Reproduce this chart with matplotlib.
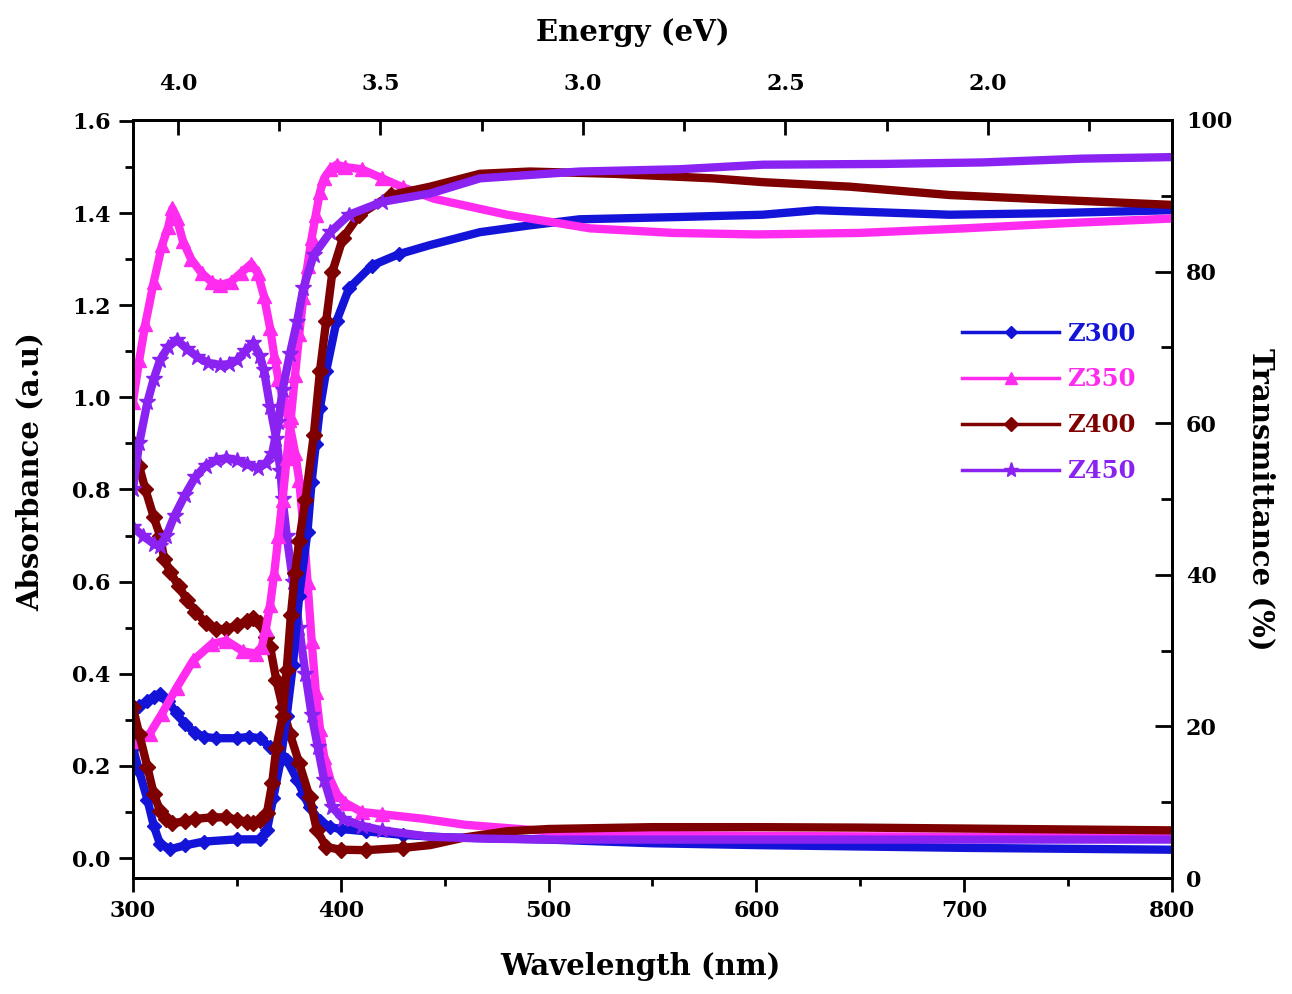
import matplotlib
matplotlib.use('Agg')
import matplotlib.pyplot as plt
from matplotlib.lines import Line2D
from matplotlib.ticker import MultipleLocator, FormatStrFormatter

plt.rcParams['font.family'] = 'DejaVu Serif'
plt.rcParams['font.weight'] = 'bold'

labels = ['Z300', 'Z350', 'Z400', 'Z450']
colors = ['#1414d8', '#ff2cf0', '#7e0000', '#8a22f2']
markers = ['D', '^', 'D', '*']
msizes = [7, 10, 8, 12]

# absorbance (left axis)
wl_abs_z300 = [300, 303, 307, 310, 313, 317, 321, 325, 330, 334, 340, 350, 356, 361, 366, 369, 372,
               374, 379, 382, 385, 390, 395, 400, 412, 430, 450, 500, 550, 600, 650, 700, 750, 800]
abs_z300 = [0.32, 0.33, 0.34, 0.35, 0.357, 0.34, 0.314, 0.29, 0.272, 0.263, 0.26, 0.26, 0.263, 0.26,
            0.241, 0.234, 0.22, 0.213, 0.17, 0.14, 0.11, 0.08, 0.067, 0.063, 0.058, 0.05, 0.045, 0.04,
            0.032, 0.028, 0.025, 0.022, 0.02, 0.018]

wl_abs_z350 = [300, 303, 306, 310, 314, 317, 319, 321, 324, 328, 333, 338, 342, 347, 352, 357, 360,
               363, 366, 368, 370, 372, 375, 378, 380, 382, 384, 386, 388, 390, 392, 395, 398, 402,
               410, 420, 440, 460, 480, 500, 550, 600, 700, 800]
abs_z350 = [0.99, 1.08, 1.16, 1.25, 1.33, 1.37, 1.41, 1.39, 1.34, 1.30, 1.27, 1.25, 1.244, 1.25, 1.27,
            1.29, 1.27, 1.22, 1.15, 1.09, 1.04, 1.00, 0.95, 0.88, 0.82, 0.72, 0.60, 0.47, 0.36, 0.28,
            0.22, 0.17, 0.14, 0.12, 0.10, 0.095, 0.085, 0.072, 0.065, 0.058, 0.05, 0.048, 0.046, 0.045]

wl_abs_z400 = [300, 303, 306, 310, 313, 315, 318, 322, 326, 330, 335, 340, 345, 350, 355, 358, 361,
               364, 366, 369, 372, 375.5, 380, 385, 388.5, 393, 400, 412, 430, 443, 460, 480, 500,
               550, 600, 650, 700, 750, 800]
abs_z400 = [0.90, 0.85, 0.80, 0.74, 0.70, 0.65, 0.62, 0.59, 0.56, 0.535, 0.51, 0.497, 0.497, 0.505,
            0.515, 0.522, 0.51, 0.48, 0.458, 0.386, 0.328, 0.27, 0.206, 0.133, 0.06, 0.024, 0.018,
            0.017, 0.022, 0.028, 0.045, 0.058, 0.063, 0.067, 0.067, 0.066, 0.064, 0.062, 0.06]

wl_abs_z450 = [300, 303, 307, 310, 313, 317, 321, 326, 331, 336, 342, 346, 350, 354, 358, 361, 363,
               366, 369, 371, 372, 374, 377, 380, 383, 386, 389, 392, 396, 401, 410, 420, 443, 470,
               500, 600, 700, 800]
abs_z450 = [0.80, 0.90, 0.99, 1.04, 1.08, 1.11, 1.125, 1.105, 1.088, 1.075, 1.07, 1.072, 1.08, 1.10,
            1.118, 1.09, 1.06, 0.98, 0.91, 0.84, 0.78, 0.70, 0.60, 0.50, 0.40, 0.31, 0.24, 0.17, 0.11,
            0.085, 0.07, 0.06, 0.046, 0.042, 0.04, 0.04, 0.04, 0.04]

# transmittance (right axis, %)
wl_tr_z300 = [300, 303, 307, 310, 313, 318, 325, 334, 350, 361, 364.5, 367.5, 371, 374, 377, 380, 384,
              386, 388, 390, 393, 398, 404, 415, 428, 443, 467, 491, 515, 563, 603, 629, 693, 741, 800]
tr_z300 = [17.2, 14.1, 10.3, 6.9, 4.5, 3.8, 4.3, 4.8, 5.1, 5.1, 6.3, 10.5, 15.4, 21.4, 28.1, 37.2, 45.7,
           52.3, 57.2, 62.0, 66.9, 73.5, 77.8, 80.8, 82.3, 83.5, 85.2, 86.1, 86.9, 87.2, 87.5, 88.1,
           87.5, 87.7, 88.1]

wl_tr_z350 = [300, 308, 314, 321, 329, 338, 345, 353, 359, 362, 364, 366, 368, 370, 372, 374, 376, 378,
              380, 382, 384, 386, 388, 390, 392, 395, 398, 402, 410, 420, 430, 445, 460, 480, 500, 520,
              560, 600, 650, 700, 750, 800]
tr_z350 = [18.1, 19.0, 21.7, 25.1, 28.7, 30.9, 31.3, 29.9, 29.6, 30.5, 32.9, 36.0, 40.2, 45.1, 49.9,
           55.4, 60.8, 66.3, 71.7, 76.6, 80.8, 84.4, 87.5, 90.5, 92.3, 93.5, 94.1, 93.8, 93.5, 92.3,
           91.1, 89.6, 88.7, 87.5, 86.6, 85.7, 85.1, 84.9, 85.1, 85.7, 86.4, 87.0]

wl_tr_z400 = [300, 303, 307, 310, 313, 316, 319, 325, 330, 338, 345, 350, 355, 358, 361, 364.5, 367,
              369, 372, 374, 376, 378, 380, 383, 387, 390, 393, 396, 401, 409, 424, 443, 467, 491,
              531, 579, 603, 645, 693, 741, 800]
tr_z400 = [22.5, 19.0, 14.6, 11.1, 8.9, 7.8, 7.2, 7.5, 7.8, 8.0, 8.0, 7.7, 7.4, 7.2, 7.7, 8.6, 12.5,
           17.2, 21.4, 27.5, 34.7, 40.2, 44.5, 49.9, 58.4, 66.9, 73.5, 80.0, 84.4, 87.5, 90.1, 91.2,
           92.9, 93.2, 92.9, 92.3, 91.8, 91.2, 90.1, 89.5, 88.8]

wl_tr_z450 = [300, 305, 310, 313, 316, 320, 325, 330, 335, 340, 345, 350, 355, 360, 364, 367, 370, 372,
              375.5, 379, 382, 387, 395, 404, 420, 443, 467, 515, 563, 603, 661, 709, 757, 800]
tr_z450 = [46.3, 45.1, 44.1, 43.8, 45.1, 47.8, 50.5, 52.9, 54.4, 55.1, 55.4, 55.1, 54.6, 54.1, 54.7,
           56.0, 60.2, 64.4, 69.1, 73.4, 77.8, 82.2, 85.2, 87.5, 89.2, 90.3, 92.3, 93.2, 93.5, 94.1,
           94.2, 94.4, 94.9, 95.1]

abs_wl = [wl_abs_z300, wl_abs_z350, wl_abs_z400, wl_abs_z450]
abs_vals = [abs_z300, abs_z350, abs_z400, abs_z450]
tr_wl = [wl_tr_z300, wl_tr_z350, wl_tr_z400, wl_tr_z450]
tr_vals = [tr_z300, tr_z350, tr_z400, tr_z450]

energy_ticks = [4.0, 3.5, 3.0, 2.5, 2.0]
energy_minor = [3.75, 3.25, 2.75, 2.25, 1.75]


def wl_to_ev(wl):
    # the top scale of the original is linear in wavelength
    return 4.0 - 0.005131 * (wl - 321.6)


def ev_to_wl(ev):
    return 321.6 + (4.0 - ev) / 0.005131


fig = plt.figure(figsize=(12.92, 9.94), dpi=100)
ax = fig.add_axes([0.1029, 0.1167, 0.8042, 0.7626])
ax2 = ax.twinx()

for i in range(4):
    # markers only where the points are dense, the flat part reads as a thick band
    mk_a = [w <= 430 for w in abs_wl[i]]
    mk_t = [w <= 430 for w in tr_wl[i]]
    ax.plot(abs_wl[i], abs_vals[i], color=colors[i], marker=markers[i], markersize=msizes[i],
            markevery=mk_a, linewidth=6, solid_joinstyle='round', solid_capstyle='round')
    ax2.plot(tr_wl[i], tr_vals[i], color=colors[i], marker=markers[i], markersize=msizes[i],
             markevery=mk_t, linewidth=6, solid_joinstyle='round', solid_capstyle='round')

ax.set_xlim(300, 800)
ax.set_ylim(-0.0434, 1.602)
ax2.set_ylim(0, 100)

ax.xaxis.set_major_locator(MultipleLocator(100))
ax.xaxis.set_minor_locator(MultipleLocator(50))
ax.yaxis.set_major_locator(MultipleLocator(0.2))
ax.yaxis.set_minor_locator(MultipleLocator(0.1))
ax2.yaxis.set_major_locator(MultipleLocator(20))
ax2.yaxis.set_minor_locator(MultipleLocator(10))
ax.yaxis.set_major_formatter(FormatStrFormatter('%.1f'))

ax.tick_params(axis='both', which='major', direction='out', length=10, width=2, labelsize=16, pad=6)
ax.tick_params(axis='both', which='minor', direction='out', length=6, width=2)
ax.tick_params(axis='x', top=False)
ax2.tick_params(axis='y', which='major', direction='in', length=12, width=2, labelsize=16, pad=10)
ax2.tick_params(axis='y', which='minor', direction='in', length=8, width=2)

for a in (ax, ax2):
    for s in a.spines.values():
        s.set_linewidth(2)

secax = ax.secondary_xaxis('top', functions=(wl_to_ev, ev_to_wl))
secax.set_xticks(energy_ticks)
secax.set_xticks(energy_minor, minor=True)
secax.xaxis.set_major_formatter(FormatStrFormatter('%.1f'))
secax.tick_params(axis='x', which='major', direction='in', length=11, width=2, labelsize=16, pad=18)
secax.tick_params(axis='x', which='minor', direction='in', length=8, width=2)
secax.spines['top'].set_linewidth(2)

ax.set_xlabel('Wavelength (nm)', fontsize=21, fontweight='bold')
ax.xaxis.set_label_coords(0.488, -0.098)
ax.set_ylabel('Absorbance (a.u)', fontsize=21, fontweight='bold')
ax.yaxis.set_label_coords(-0.085, 0.536)
ax2.set_ylabel('Transmittance (%)', fontsize=21, fontweight='bold', rotation=270, va='bottom')
ax2.yaxis.set_label_coords(1.072, 0.499)
secax.set_xlabel('Energy (eV)', fontsize=21, fontweight='bold')
secax.xaxis.set_label_coords(0.481, 1.104, transform=ax.transAxes)

handles = [Line2D([0], [0], color=colors[i], marker=markers[i], markersize=msizes[i] - 1, linewidth=2.5)
           for i in range(4)]
leg = ax.legend(handles, labels, loc='upper left', bbox_to_anchor=(0.777, 0.763), frameon=False,
                fontsize=17.5, numpoints=1, handlelength=4.0, handletextpad=0.3, labelspacing=0.9)
for t, c in zip(leg.get_texts(), colors):
    t.set_color(c)

fig.savefig('out.png', dpi=100)
